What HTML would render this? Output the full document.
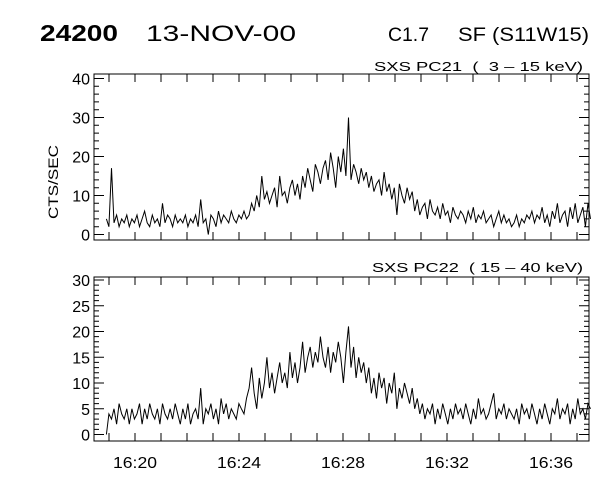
<!DOCTYPE html>
<html><head><meta charset="utf-8">
<style>
html,body{margin:0;padding:0;background:#fff;}
svg{display:block;font-family:"Liberation Sans",sans-serif;}
</style></head>
<body>
<svg id="chart" width="600" height="480" viewBox="0 0 600 480">
  <text x="40" y="41" font-size="23" font-weight="bold" textLength="78" lengthAdjust="spacingAndGlyphs">24200</text>
  <text x="146" y="41" font-size="22" textLength="150" lengthAdjust="spacingAndGlyphs">13-NOV-00</text>
  <text x="388" y="41" font-size="19" textLength="41" lengthAdjust="spacingAndGlyphs">C1.7</text>
  <text x="458" y="41" font-size="19" textLength="131" lengthAdjust="spacingAndGlyphs">SF (S11W15)</text>
  <text x="374" y="71" font-size="13" textLength="209" lengthAdjust="spacingAndGlyphs" xml:space="preserve">SXS PC21  (  3 – 15 keV)</text>
  <text x="372" y="272" font-size="13" textLength="211" lengthAdjust="spacingAndGlyphs" xml:space="preserve">SXS PC22  ( 15 – 40 keV)</text>
  <text transform="translate(58,182) rotate(-90)" font-size="14" text-anchor="middle" textLength="74" lengthAdjust="spacingAndGlyphs">CTS/SEC</text>
</svg>
<script>
const startMin = 18.9;   // minutes after 16:00
const stepMin = 0.098;
const xTickLabels = ["16:20","16:24","16:28","16:32","16:36"];
const xTickMinutes = [20,24,28,32,36];
const topTicks = [0,10,20,30,40];
const bottomTicks = [0,5,10,15,20,25,30];
const pc21 = [4,2,17,3,5,2,4,3,5,2,
4,3,5,2,4,6,3,2,5,3,
4,2,8,3,5,4,2,5,3,4,
3,5,2,4,3,5,2,9,3,4,
0,5,4,2,6,3,5,4,3,6,
4,3,5,4,6,4,5,8,6,10,
7,15,9,11,8,10,12,7,15,10,
11,8,12,14,10,13,9,15,12,17,
14,11,18,16,13,17,19,14,21,17,
12,20,16,22,15,30,14,18,16,13,
17,14,16,12,15,11,13,14,10,16,
11,13,9,12,5,13,10,8,12,9,
11,6,9,5,7,8,4,9,6,5,
7,4,8,5,6,3,7,5,4,6,
5,3,6,4,7,3,5,4,6,3,
4,5,2,4,6,3,5,3,4,2,
3,5,2,4,3,5,4,6,3,5,
4,7,3,5,2,6,4,8,3,5,
6,2,7,4,8,3,5,7,2,8,4];
const pc22 = [0,4,3,5,2,6,4,3,5,2,
5,3,4,6,2,5,3,6,4,3,
5,2,6,4,3,5,3,6,4,2,
5,3,6,2,4,5,3,9,2,5,
4,6,3,5,2,7,4,6,3,5,
4,3,6,5,4,7,9,13,8,5,
11,7,10,15,9,12,8,11,14,10,
12,9,16,11,14,10,13,18,12,15,
17,13,16,14,19,15,13,17,12,16,
14,18,15,10,16,21,13,17,11,15,
12,14,10,13,8,11,7,12,9,11,
6,10,8,12,5,9,7,10,8,6,
9,5,7,4,6,3,5,4,6,2,
5,3,6,4,2,5,3,6,4,5,
3,6,4,2,5,3,7,4,5,3,
4,6,8,3,5,4,6,3,5,4,
3,5,2,6,4,5,3,6,4,2,
5,3,6,4,2,5,4,7,3,5,
4,6,2,5,3,7,4,5,3,6,5];

const svg = document.getElementById('chart');
const NS = 'http://www.w3.org/2000/svg';
const X0 = 94, X1 = 589;
const xScale = m => 343 + (m - 28) * 26;
function mk(tag, attrs){ const e=document.createElementNS(NS,tag); for(const k in attrs) e.setAttribute(k,attrs[k]); svg.appendChild(e); return e; }

function panel(name, top, bottom, y0px, ymaxPx, ymax, ticks, minorStep, data, showX){
  const yScale = v => y0px - v * (y0px - ymaxPx) / ymax;
  const box = mk('rect',{x:X0,y:top,width:X1-X0,height:bottom-top,fill:'none',stroke:'#000','stroke-width':1});
  
  
  let d='';
  for(let v=0; v<=ymax+0.001; v+=minorStep){
    const y=yScale(v).toFixed(1);
    const major = ticks.includes(Math.round(v*100)/100);
    const L = major?10:5;
    d+=`M${X0} ${y}h${L}M${X1} ${y}h${-L}`;
  }
  for(let m=19; m<=37; m++){
    const x=xScale(m).toFixed(1);
    d+=`M${x} ${bottom}v-8M${x} ${top}v8`;
  }
  const t = mk('path',{d:d,stroke:'#000','stroke-width':1,fill:'none'});
  
  
  ticks.forEach(v=>{
    const lab = mk('text',{x:X0-4,y:yScale(v)+6,'font-size':16,'text-anchor':'end'});
    lab.textContent=v;
    
    
  });
  let p='';
  data.forEach((v,i)=>{ const x=xScale(startMin+i*stepMin), y=yScale(v); p+=(i?'L':'M')+x.toFixed(1)+' '+y.toFixed(1); });
  const line = mk('path',{d:p,stroke:'#000','stroke-width':1,fill:'none','stroke-linejoin':'miter'});
  
  
  if(showX){
    xTickLabels.forEach((s,i)=>{
      const lab = mk('text',{x:xScale(xTickMinutes[i])-22,y:bottom+27,'font-size':16,textLength:44,lengthAdjust:'spacingAndGlyphs'});
      lab.textContent=s;
      
      
    });
  }
}
panel('pc21-panel', 74, 240, 234.5, 78.5, 40, topTicks, 2, pc21, false);
panel('pc22-panel', 277, 441, 434.5, 280, 30, bottomTicks, 1, pc22, true);
</script>
</body></html>
